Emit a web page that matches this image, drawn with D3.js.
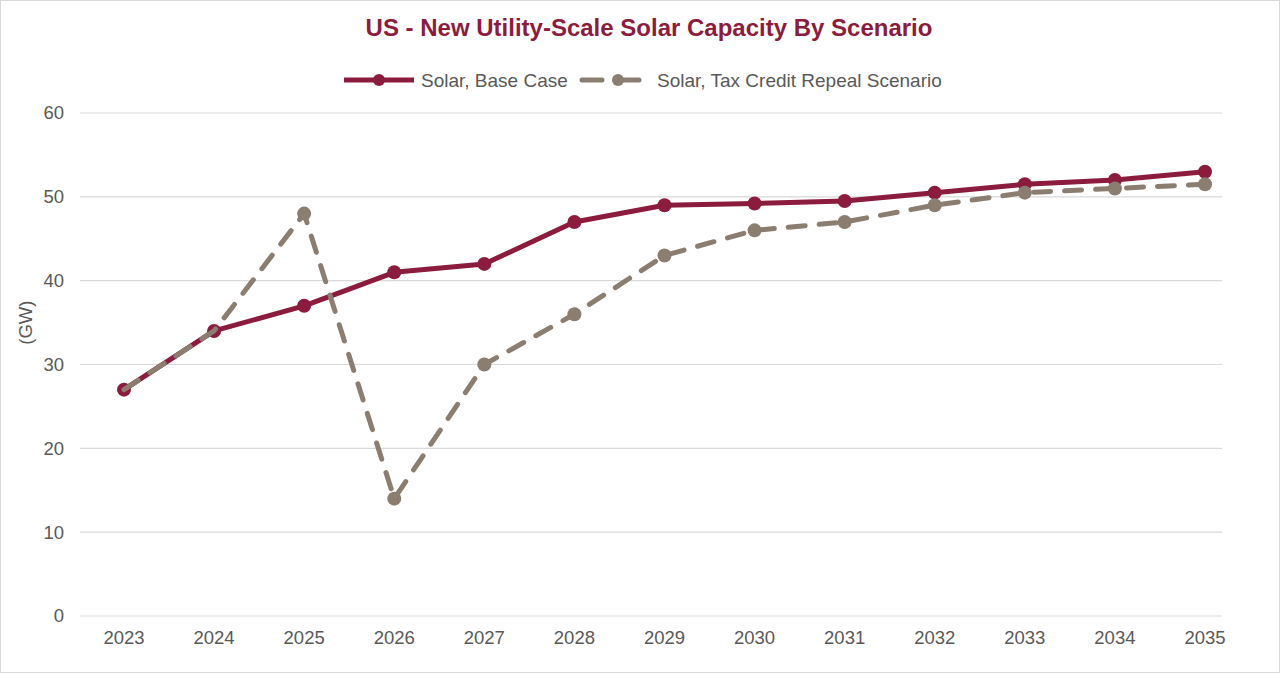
<!DOCTYPE html>
<html>
<head>
<meta charset="utf-8">
<script src="https://cdn.jsdelivr.net/npm/d3@7"></script>
<style>
  body { margin: 0; background: #fff; }
  svg { display: block; font-family: "Liberation Sans", Arial, sans-serif; }
</style>
</head>
<body>
<div id="chart"></div>
<script>
var years = ["2023","2024","2025","2026","2027","2028","2029","2030","2031","2032","2033","2034","2035"];
var baseCase = [27, 34, 37, 41, 42, 47, 49, 49.2, 49.5, 50.5, 51.5, 52, 53];
var repealCase = [27, 34, 48, 14, 30, 36, 43, 46, 47, 49, 50.5, 51, 51.5];
var yTicks = [0, 10, 20, 30, 40, 50, 60];

var width = 1280, height = 673;
var red = "#8c1c3d", grey = "#8b7d70", textCol = "#595959";

var svg = d3.select("#chart").append("svg")
  .attr("width", width)
  .attr("height", height);

svg.append("rect")
  .attr("x", 0.5).attr("y", 0.5)
  .attr("width", width - 1).attr("height", height - 1)
  .attr("fill", "#fff")
  .attr("stroke", "#d9d9d9");

var x = d3.scalePoint().domain(years).range([124, 1205]);
var y = d3.scaleLinear().domain([0, 60]).range([616, 113]);

// gridlines
svg.append("g").selectAll("line")
  .data(yTicks)
  .enter().append("line")
  .attr("x1", 80).attr("x2", 1222)
  .attr("y1", function(d){ return y(d); })
  .attr("y2", function(d){ return y(d); })
  .attr("stroke", "#d9d9d9")
  .attr("stroke-width", 1.2);

// y tick labels
svg.append("g").selectAll("text")
  .data(yTicks)
  .enter().append("text")
  .attr("x", 64)
  .attr("y", function(d){ return y(d); })
  .attr("dy", "0.35em")
  .attr("text-anchor", "end")
  .attr("fill", textCol)
  .style("font-size", "18.5px")
  .text(function(d){ return d; });

// x tick labels
svg.append("g").selectAll("text")
  .data(years)
  .enter().append("text")
  .attr("x", function(d){ return x(d); })
  .attr("y", 644)
  .attr("text-anchor", "middle")
  .attr("fill", textCol)
  .style("font-size", "18.5px")
  .text(function(d){ return d; });

svg.append("text")
  .attr("transform", "translate(26," + y(35) + ") rotate(-90)")
  .attr("dy", "0.35em")
  .attr("text-anchor", "middle")
  .attr("fill", textCol)
  .style("font-size", "18.5px")
  .text("(GW)");

svg.append("text")
  .attr("x", 649).attr("y", 36)
  .attr("text-anchor", "middle")
  .attr("fill", red)
  .style("font-size", "24px")
  .style("font-weight", "bold")
  .text("US - New Utility-Scale Solar Capacity By Scenario");

var line = d3.line()
  .x(function(d, i){ return x(years[i]); })
  .y(function(d){ return y(d); });

// base case
svg.append("path")
  .datum(baseCase)
  .attr("d", line)
  .attr("fill", "none")
  .attr("stroke", red)
  .attr("stroke-width", 5)
  .attr("stroke-linejoin", "round");

svg.append("g").selectAll("circle")
  .data(baseCase)
  .enter().append("circle")
  .attr("cx", function(d, i){ return x(years[i]); })
  .attr("cy", function(d){ return y(d); })
  .attr("r", 7)
  .attr("fill", red);

// repeal scenario
svg.append("path")
  .datum(repealCase)
  .attr("d", line)
  .attr("fill", "none")
  .attr("stroke", grey)
  .attr("stroke-width", 5)
  .attr("stroke-linecap", "round")
  .attr("stroke-dasharray", "17,14");

svg.append("g").selectAll("circle")
  .data(repealCase.map(function(v, i){ return {v: v, i: i}; })
    .filter(function(d){ return d.v !== baseCase[d.i]; }))
  .enter().append("circle")
  .attr("cx", function(d){ return x(years[d.i]); })
  .attr("cy", function(d){ return y(d.v); })
  .attr("r", 7)
  .attr("fill", grey);

// legend
var lg = svg.append("g").attr("transform", "translate(0,80)");
lg.append("line")
  .attr("x1", 344).attr("x2", 414)
  .attr("stroke", red).attr("stroke-width", 5);
lg.append("circle").attr("cx", 379).attr("r", 6).attr("fill", red);
lg.append("text")
  .attr("x", 421).attr("dy", "0.35em")
  .attr("fill", textCol).style("font-size", "19px")
  .text("Solar, Base Case");

lg.append("line")
  .attr("x1", 582).attr("x2", 642)
  .attr("stroke", grey).attr("stroke-width", 5)
  .attr("stroke-linecap", "round")
  .attr("stroke-dasharray", "20,17");
lg.append("circle").attr("cx", 618).attr("r", 6).attr("fill", grey);
lg.append("text")
  .attr("x", 657).attr("dy", "0.35em")
  .attr("fill", textCol).style("font-size", "19px")
  .text("Solar, Tax Credit Repeal Scenario");
</script>
</body>
</html>
